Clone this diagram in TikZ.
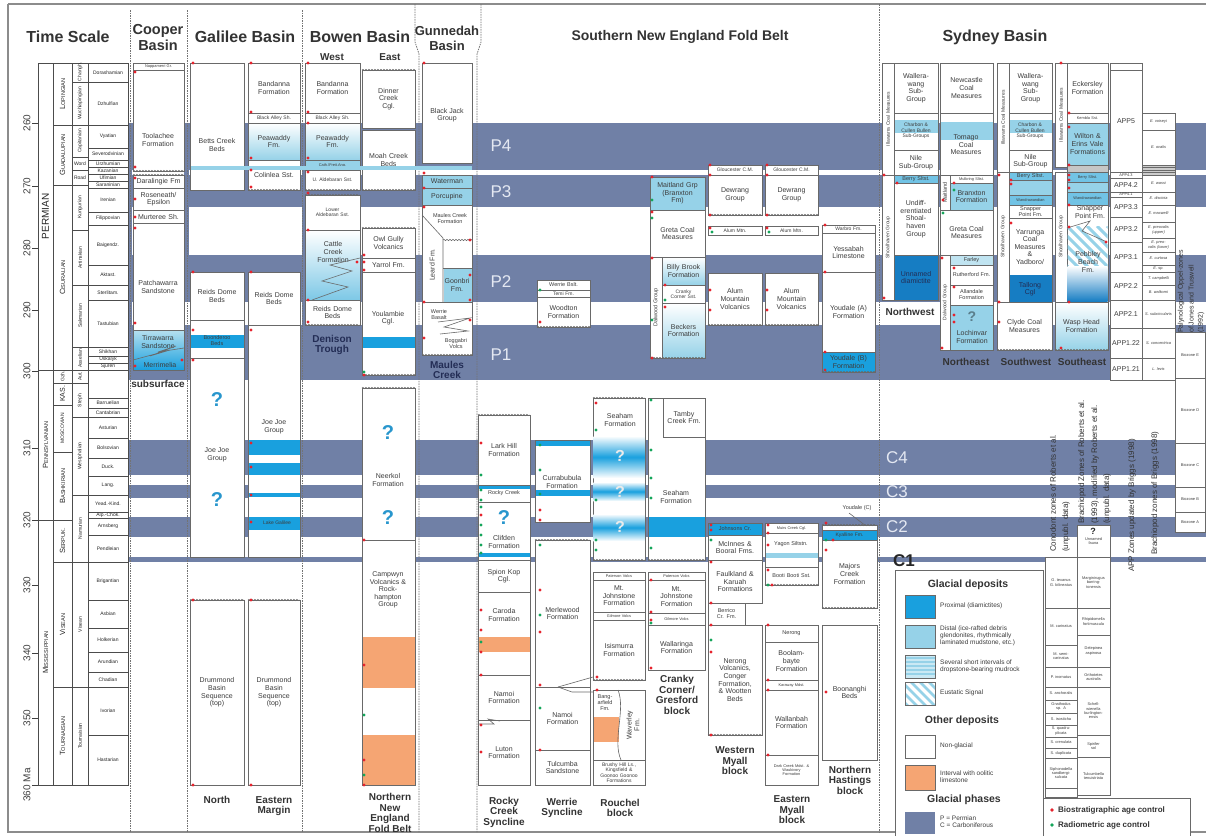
\documentclass[tikz,border=0pt]{standalone}
\usepackage{fontspec}
\setmainfont{Liberation Sans}
\usetikzlibrary{decorations.pathmorphing}
\definecolor{band}{RGB}{112,128,166}
\definecolor{prox}{RGB}{25,160,222}
\definecolor{proxd}{RGB}{22,125,195}
\definecolor{dist}{RGB}{150,210,232}
\definecolor{oran}{RGB}{245,165,115}
\definecolor{bord}{RGB}{105,105,105}
\definecolor{txt}{RGB}{60,60,60}
\definecolor{rdot}{RGB}{230,35,45}
\definecolor{gdot}{RGB}{20,165,90}
\definecolor{qblue}{RGB}{40,150,205}
\definecolor{plab}{RGB}{228,232,242}
\definecolor{navy}{RGB}{35,45,85}
\newcounter{nd}
\newcommand\ffa{\fontsize{7}{7.6}\selectfont}
\newcommand\ffb{\fontsize{5}{5.5}\selectfont}
\newcommand\ffc{\fontsize{5.5}{6}\selectfont}
\newcommand\ffd{\fontsize{3.9}{4.3}\selectfont}
\newcommand\scx[2]{{\fontsize{7.5}{8}\selectfont #1}{\fontsize{5.6}{6}\selectfont #2}}
\newcommand{\fmcell}[6][]{%
  \pgfmathsetmacro\cw{#4-#2}\pgfmathsetmacro\ch{#5-#3}%
  \pgfmathsetmacro\tw{max(#4-#2-2,1)}%
  \pgfmathsetmacro\cx{(#2+#4)/2}\pgfmathsetmacro\cy{(#3+#5)/2}%
  \stepcounter{nd}%
  \node[cellb,minimum width=\cw pt,minimum height=\ch pt,text width=\tw pt,#1] (c\arabic{nd}) at (\cx,\cy) {#6};}
\newcommand{\fmrcell}[6][]{%
  \pgfmathsetmacro\cw{#5-#3}\pgfmathsetmacro\ch{#4-#2}%
  \pgfmathsetmacro\tw{max(#5-#3-2,1)}%
  \pgfmathsetmacro\cx{(#2+#4)/2}\pgfmathsetmacro\cy{(#3+#5)/2}%
  \stepcounter{nd}%
  \node[cellb,rotate=90,minimum width=\cw pt,minimum height=\ch pt,text width=\tw pt,#1] (c\arabic{nd}) at (\cx,\cy) {#6};}
\begin{document}
\begin{tikzpicture}[x=1pt,y=-1pt,
  cellb/.style={draw=bord,fill=white,line width=0.5pt,align=center,inner xsep=1pt,inner ysep=0pt,font=\ffa,text=txt},
  tsc/.style={draw=black!70,text=black!85,font=\ffb},
  lbl/.style={font=\ffa,text=txt,align=center,inner sep=0pt},
  hdr/.style={font=\fontsize{16}{17}\selectfont\bfseries,text=black!80,align=center,inner sep=0pt},
  subh/.style={font=\fontsize{10}{11}\selectfont\bfseries,text=black!80,inner sep=0pt},
  blab/.style={font=\fontsize{10}{10.5}\selectfont\bfseries,text=black!80,align=center,inner sep=0pt},
  plabel/.style={font=\fontsize{17}{17}\selectfont,text=plab,inner sep=0pt},
  qm/.style={font=\fontsize{20}{20}\selectfont\bfseries,text=qblue,inner sep=0pt},
  qw/.style={font=\fontsize{16}{16}\selectfont\bfseries,text=white!92!black,inner sep=0pt},
  wavy/.style={draw=bord,line width=0.5pt,decorate,decoration={snake,amplitude=0.7pt,segment length=3pt}},
  sep/.style={draw=black!55,line width=0.8pt,dash pattern=on 1.5pt off 1pt},
  rotlab/.style={rotate=90,anchor=west,font=\fontsize{8}{8}\selectfont,text=black!80,inner sep=0pt},
  zz/.style={draw=bord,line width=0.6pt},
  legt/.style={anchor=west,font=\fontsize{6.5}{7.2}\selectfont,text=txt,align=left,inner sep=0pt},
  legh/.style={font=\fontsize{10.5}{11}\selectfont\bfseries,text=black!80,inner sep=0pt},
]
\useasboundingbox (0,0) rectangle (1206,836);
\fill[white] (0,0) rectangle (1206,836);
% ---------- glacial bands ----------
\foreach \a/\b in {123/170,175/207,255/302,325/380,440/475,485/498,517/537,557/562}
  \fill[band] (127,\a) rectangle (1206,\b);
\fill[band] (127,123) rectangle (132,333);
\fill[band] (184,123) rectangle (189,290);
\fill[band] (244,123) rectangle (248,200);
\fill[band] (302,123) rectangle (305,380);
% ---------- frame and separators ----------
\draw[black!45,line width=1.6pt] (8,4) -- (1206,4);
\draw[black!45,line width=1.6pt] (8,4) -- (8,832) -- (1206,832);
\draw[sep] (130,10) -- (130,832);
\draw[sep] (187,10) -- (187,832);
\draw[sep] (302,10) -- (302,832);
\draw[sep] (415,4) -- (415,42) -- (419,54) -- (419,832);
\draw[sep] (481,4) -- (481,42) -- (477,54) -- (477,832);
\draw[sep] (879,4) -- (879,832);
% ---------- headers ----------
\node[hdr] (hts) at (68,37) {Time Scale};
\node[hdr,font=\fontsize{14.5}{16}\selectfont\bfseries] (hcb) at (158,38) {Cooper\\Basin};
\node[hdr] (hgb) at (245,37) {Galilee Basin};
\node[hdr] (hbb) at (360,37) {Bowen Basin};
\node[subh] (hw) at (332,57) {West};
\node[subh] (he) at (390,57) {East};
\node[hdr,font=\fontsize{13}{15}\selectfont\bfseries] (hgu) at (447,38) {Gunnedah\\Basin};
\node[hdr,font=\fontsize{14}{15}\selectfont\bfseries] (hsn) at (680,37) {Southern New England Fold Belt};
\node[hdr] (hsy) at (995,37) {Sydney Basin};
% ---------- time scale ----------
\draw[black!75,line width=0.6pt] (38,63) -- (38,785);
\foreach \yy/\lab [count=\i] in {123/260,186/270,248/280,310/290,371/300,448/310,520/320,585/330,653/340,718/350,785/360 Ma}{
  \draw[black!75,line width=0.6pt] (32,\yy) -- (38,\yy);
  \node[rotate=90,font=\fontsize{10}{10}\selectfont,text=black!75,inner sep=0pt] (tk\i) at (27,\yy) {\lab};}
\fmrcell[tsc,font=\ffa]{38}{63}{53}{370}{\fontsize{10}{10}\selectfont PERMIAN}
\fmrcell[tsc]{38}{370}{53}{520}{\scx{P}{ENNSYLVANIAN}}
\fmrcell[tsc]{38}{520}{53}{785}{\scx{M}{ISSISSIPPIAN}}
\fmrcell[tsc]{53}{63}{72}{125}{\scx{L}{OPINGIAN}}
\fmrcell[tsc]{53}{125}{72}{185}{\scx{G}{UADALUPIAN}}
\fmrcell[tsc]{53}{185}{72}{370}{\scx{C}{ISURALIAN}}
\fmrcell[tsc]{53}{370}{72}{383}{Gzh.}
\fmrcell[tsc,font=\ffa]{53}{383}{72}{405}{KAS.}
\fmrcell[tsc]{53}{405}{72}{452}{MOSCOVIAN}
\fmrcell[tsc]{53}{452}{72}{520}{\scx{B}{ASHKIRIAN}}
\fmrcell[tsc]{53}{520}{72}{562}{\scx{S}{ERPUK.}}
\fmrcell[tsc]{53}{562}{72}{687}{\scx{V}{ISEAN}}
\fmrcell[tsc]{53}{687}{72}{785}{\scx{T}{OURNAISIAN}}
\foreach \a/\b/\t in {63/82/Changh.,82/125/Wuchiapingian,125/157/Capitanian,185/230/Kungurian,230/285/Artinskian,285/347/Sakmarian,347/370/Asselian,370/383/Aut.,383/417/Steph.,417/495/Westphalian,495/562/Namurian,562/687/Visean,687/785/Tournaisian}
  \fmrcell[tsc]{72}{\a}{88}{\b}{\t};
\fmcell[tsc]{72}{157}{88}{170}{Word}
\fmcell[tsc]{72}{170}{88}{185}{Road}
\foreach \a/\b/\t in {63/82/Dorashamian,82/125/Dzhulfian,125/148/Vyatian,148/160/Severodvinian,160/167/Urzhumian,167/174/Kazanian,174/181/Ufimian,181/188/Saraninian,188/212/Irenian,212/225/Filippovian,225/265/Baigendz.,265/285/Aktast.,285/300/Sterlitam.,300/347/Tastubian,347/356/Shikhan,356/363/Uskalyk,363/370/Sjuren,370/398/{},398/408/Barruelian,408/417/Cantabrian,417/438/Asturian,438/458/Bolsovian,458/476/Duck.,476/495/Lang.,495/512/Yead.-Kind.,512/518/Alp.-Chok.,518/535/Arnsberg,535/562/Pendleian,562/600/Brigantian,600/628/Asbian,628/652/Holkerian,652/672/Arundian,672/687/Chadian,687/735/Ivorian,735/785/Hastarian}
  \fmcell[tsc]{88}{\a}{128}{\b}{\t};
% ---------- Cooper Basin ----------
\fmcell[font=\ffd]{133}{63}{184}{70}{Nappamerri Gr.}
\fmcell{133}{70}{184}{171}{}
\node[lbl] (tool) at (158,140) {Toolachee\\Formation};
\fmcell{133}{175}{184}{188}{Daralingie Fm}
\fmcell{133}{188}{184}{210}{Roseneath/\\Epsilon}
\fmcell{133}{210}{184}{223}{Murteree Sh.}
\fmcell{133}{223}{184}{330}{}
\node[lbl] (patch) at (158,287) {Patchawarra\\Sandstone};
\fmcell[top color=dist!70,bottom color=prox]{133}{330}{184}{370}{}
\node[lbl] (tirr) at (158,342) {Tirrawarra\\Sandstone};
\node[lbl] (merr) at (160,365) {Merrimelia};
\draw[zz] (133,360) -- (170,350) -- (150,356) -- (176,346) -- (158,352) -- (184,348);
\draw[wavy] (133,171) -- (184,171);
\draw[wavy] (133,175) -- (184,175);
\node[blab] (cbsub) at (158,384) {subsurface};
% ---------- Galilee North ----------
\fmcell{190}{63}{244}{190}{}
\node[lbl] (betts) at (217,145) {Betts Creek\\Beds};
\fmcell{190}{272}{244}{320}{Reids Dome\\Beds}
\fmcell{190}{320}{244}{358}{}
\fill[prox] (190.5,335) rectangle (243.5,348);
\node[lbl,font=\ffc] (boon) at (217,341) {Boonderoo\\Beds};
\fmcell{190}{358}{244}{557}{}
\node[lbl] (jj1) at (217,455) {Joe Joe\\Group};
\node[qm] (q1) at (217,400) {?};
\node[qm] (q2) at (217,500) {?};
\fmcell{190}{600}{244}{785}{Drummond\\Basin\\Sequence\\(top)}
\draw[wavy] (190,600) -- (244,600);
\node[blab] (gn) at (217,800) {North};
% ---------- Galilee Eastern margin ----------
\fmcell{248}{63}{300}{113}{Bandanna\\Formation}
\fmcell[font=\ffb]{248}{113}{300}{123}{Black Alley Sh.}
\fmcell[top color=white,bottom color=dist]{248}{123}{300}{160}{Peawaddy\\Fm.}
\fmcell{248}{160}{300}{190}{Colinlea Sst.}
\draw[wavy] (248,190) -- (300,190);
\fmcell{248}{272}{300}{325}{Reids Dome\\Beds}
\fmcell{248}{325}{300}{557}{}
\foreach \a/\b in {440/455,463/475,493/497,517/530} \fill[prox] (248.5,\a) rectangle (299.5,\b);
\node[lbl] (jj2) at (274,427) {Joe Joe\\Group};
\node[lbl,font=\ffb] (lg) at (277,523) {Lake Galilee};
\fmcell{248}{600}{300}{785}{Drummond\\Basin\\Sequence\\(top)}
\draw[wavy] (248,600) -- (300,600);
\node[blab] (ge) at (274,806) {Eastern\\Margin};
% ---------- Bowen West ----------
\fmcell{305}{63}{360}{113}{Bandanna\\Formation}
\fmcell[font=\ffb]{305}{113}{360}{123}{Black Alley Sh.}
\fmcell[top color=white,bottom color=dist]{305}{123}{360}{160}{Peawaddy\\Fm.}
\fmcell[fill=dist,font=\ffd]{305}{160}{360}{170}{Cath./Freit.Ang.}
\fmcell[font=\ffb]{305}{170}{360}{190}{U. Aldebaran Sst.}
\draw[wavy] (305,190) -- (360,190);
\fmcell[font=\ffb]{305}{195}{360}{230}{Lower\\Aldebaran Sst.}
\draw[wavy] (305,195) -- (360,195);
\fmcell[top color=white,bottom color=dist!80!prox]{305}{230}{360}{300}{}
\node[lbl] (cattle) at (333,252) {Cattle\\Creek\\Formation};
\draw[zz] (312,300) -- (348,287) -- (322,281) -- (352,271) -- (330,265) -- (360,258);
\fmcell{305}{300}{360}{325}{Reids Dome\\Beds}
\draw[wavy] (305,325) -- (360,325);
\node[blab,text=navy] (dt) at (332,345) {Denison\\Trough};
% ---------- Bowen East ----------
\fmcell{362}{70}{415}{128}{Dinner\\Creek\\Cgl.}
\draw[wavy] (362,70) -- (415,70);
\fmcell{362}{130}{415}{190}{Moah Creek\\Beds}
\draw[wavy] (362,190) -- (415,190);
\fmcell{362}{228}{415}{258}{Owl Gully\\Volcanics}
\draw[wavy] (362,228) -- (415,228);
\fmcell{362}{258}{415}{272}{Yarrol Fm.}
\fmcell{362}{272}{415}{375}{}
\fill[prox] (362.5,337) rectangle (414.5,348);
\node[lbl] (youl) at (388,318) {Youlambie\\Cgl.};
\draw[wavy] (362,375) -- (415,375);
\fmcell{362}{388}{415}{540}{}
\draw[wavy] (362,388) -- (415,388);
\node[qm] (q3) at (388,433) {?};
\node[lbl] (neer) at (388,480) {Neerkol\\Formation};
\node[qm] (q4) at (388,518) {?};
\fmcell{362}{540}{415}{785}{}
\fill[oran] (362.5,637) rectangle (414.5,688);
\fill[oran] (362.5,735) rectangle (414.5,784.5);
\node[lbl] (camp) at (388,590) {Campwyn\\Volcanics \&\\Rock-\\hampton\\Group};
\node[blab] (nnefb) at (390,813) {Northern\\New\\England\\Fold Belt};
% light blue line across Galilee-Gunnedah
\fill[dist] (190.5,166) rectangle (471.5,170);
% ---------- Gunnedah ----------
\fmcell{422}{63}{472}{163}{}
\node[lbl] (bj) at (447,115) {Black Jack\\Group};
\fmcell[fill=dist]{422}{175}{472}{188}{Waterman}
\fmcell[fill=dist]{422}{188}{472}{205}{Porcupine}
\fmcell{422}{205}{472}{302}{}
\node[lbl,font=\ffc] (mcf) at (450,219) {Maules Creek\\Formation};
\draw[zz] (422,215) -- (443,238) -- (443,302);
\draw[wavy] (443,240) -- (472,240);
\fill[dist] (443.5,268) rectangle (471.5,301.5);
\draw[zz] (443,268) -- (472,268);
\node[lbl] (goon) at (457,285) {Goonbri\\Fm.};
\node[lbl,rotate=90] (leard) at (432,265) {Leard Fm.};
\fmcell{422}{302}{472}{355}{}
\node[lbl,font=\ffc] (wb) at (439,315) {Werrie\\Basalt};
\node[lbl,font=\ffc] (bv) at (456,344) {Boggabri\\Volcs};
\draw[zz] (438,322) -- (470,318) -- (444,327) -- (468,331) -- (440,334);
\draw[wavy] (422,355) -- (472,355);
\node[blab,text=navy] (mc) at (447,370) {Maules\\Creek};
% ---------- SNEFB Permian ----------
\node[plabel] (lp4) at (501,146) {P4};
\node[plabel] (lp3) at (501,192) {P3};
\node[plabel] (lp2) at (501,282) {P2};
\node[plabel] (lp1) at (501,355) {P1};
\fmcell[font=\ffc]{537}{280}{590}{290}{Werrie Bslt.}
\fmcell[font=\ffb]{537}{290}{590}{297}{Temi Fm.}
\fmcell{537}{297}{590}{327}{Woodton\\Formation}
\draw[wavy] (537,327) -- (590,327);
\fmcell[fill=dist]{650}{177}{705}{210}{Maitland Grp\\(Branxton\\Fm)}
\fmcell{650}{210}{705}{257}{Greta Coal\\Measures}
\fmrcell[font=\ffc]{650}{257}{662}{358}{Dalwood Group}
\fmcell[top color=white,bottom color=dist]{662}{257}{705}{285}{Billy Brook\\Formation}
\fmcell[font=\ffb]{662}{285}{705}{303}{Cranky\\Corner Sst.}
\fmcell[top color=white,bottom color=dist]{662}{303}{705}{358}{Beckers\\Formation}
\draw[wavy] (650,358) -- (705,358);
\foreach \xa/\xb in {708/762,765/818}{
  \fmcell[font=\ffb]{\xa}{165}{\xb}{175}{Gloucester C.M.}
  \fmcell{\xa}{175}{\xb}{215}{Dewrang\\Group}
  \draw[wavy] (\xa,215) -- (\xb,215);
  \fmcell[font=\ffb]{\xa}{226}{\xb}{235}{Alum Mtn.}
  \fmcell{\xa}{273}{\xb}{325}{Alum\\Mountain\\Volcanics}
  \draw[wavy] (\xa,325) -- (\xb,325);}
\fmcell[font=\ffb]{822}{225}{875}{233}{Warbro Fm.}
\fmcell{822}{233}{875}{272}{Yessabah\\Limestone}
\fmcell{822}{272}{875}{352}{Youdale (A)\\Formation}
\fmcell[fill=prox]{822}{352}{875}{372}{Youdale (B)\\Formation}
\draw[wavy] (822,372) -- (875,372);
% ---------- SNEFB Carboniferous ----------
\node[plabel] (lc4) at (897,458) {C4};
\node[plabel] (lc3) at (897,492) {C3};
\node[plabel] (lc2) at (897,527) {C2};
% Rocky Creek
\fmcell{478}{415}{530}{485}{Lark Hill\\Formation}
\draw[wavy] (478,415) -- (530,415);
\fmcell[font=\ffc]{478}{485}{530}{502}{Rocky Creek}
\fill[prox] (478.5,485.5) rectangle (529.5,489);
\fmcell{478}{502}{530}{560}{}
\fill[prox] (478.5,553) rectangle (529.5,557);
\node[qm] (q5) at (504,518) {?};
\node[lbl] (clif) at (504,542) {Clifden\\Formation};
\fmcell{478}{560}{530}{592}{Spion Kop\\Cgl.}
\fmcell{478}{592}{530}{675}{}
\fill[oran] (478.5,637) rectangle (529.5,652);
\node[lbl] (caro) at (504,615) {Caroda\\Formation};
\fmcell{478}{675}{530}{720}{Namoi\\Formation}
\fmcell{478}{720}{530}{785}{Luton\\Formation}
\draw[zz] (478,724) -- (494,724) -- (488,719) -- (500,721);
\node[blab] (rcs) at (504,812) {Rocky\\Creek\\Syncline};
% Werrie Syncline
\fmcell{535}{440}{590}{522}{}
\fill[prox] (535.5,440.5) rectangle (589.5,446);
\fill[prox] (535.5,490) rectangle (589.5,496);
\node[lbl] (curr) at (562,482) {Currabubula\\Formation};
\fmcell{535}{540}{590}{687}{Merlewood\\Formation}
\draw[wavy] (535,540) -- (590,540);
\fmcell{535}{687}{590}{750}{Namoi\\Formation}
\fmcell{535}{750}{590}{785}{Tulcumba\\Sandstone}
\draw[zz] (558,687) -- (572,683) -- (593,677);
\draw[zz] (558,687) -- (572,692) -- (593,692);
\node[blab] (wsy) at (562,808) {Werrie\\Syncline};
% Rouchel
\fmcell{593}{398}{645}{560}{}
\draw[wavy] (593,398) -- (645,398);
\node[lbl] (sea1) at (620,420) {Seaham\\Formation};
\foreach \a/\b in {436/478,482/501,514/541}
  \shade[top color=white,bottom color=white,middle color=prox] (593.5,\a) rectangle (644.5,\b);
\node[qw] (qa) at (620,456) {?};
\node[qw] (qb) at (620,492) {?};
\node[qw] (qc) at (620,527) {?};
\draw[wavy] (593,560) -- (645,560);
\fmcell[font=\ffd]{593}{572}{645}{580}{Paterson Volcs}
\fmcell{593}{580}{645}{612}{Mt.\\Johnstone\\Formation}
\fmcell[font=\ffd]{593}{612}{645}{620}{Gilmore Volcs}
\fmcell{593}{620}{645}{680}{Isismurra\\Formation}
\draw[wavy] (593,680) -- (645,680);
\fmcell{593}{690}{645}{760}{}
\fill[oran] (593.5,717) rectangle (619,742);
\draw[zz] (618,690) .. controls (626,710) and (612,740) .. (621,760);
\node[lbl,font=\ffc] (bang) at (605,703) {Bang-\\arfield\\Fm.};
\node[lbl,rotate=90] (wav) at (633,725) {Waverley\\Fm.};
\fmcell[font=\ffb]{593}{760}{645}{785}{Brushy Hill Ls.,\\Kingsfield \&\\Goonoo Goonoo\\Formations}
\node[blab] (rou) at (620,808) {Rouchel\\block};
% Cranky Corner
\fmcell{648}{398}{705}{560}{}
\fmcell{663}{398}{705}{437}{Tamby\\Creek Fm.}
\fill[prox] (648.5,517) rectangle (704.5,537);
\node[lbl] (sea2) at (676,497) {Seaham\\Formation};
\draw[wavy] (648,560) -- (705,560);
\fmcell[font=\ffd]{648}{572}{705}{580}{Paterson Volcs}
\fmcell{648}{580}{705}{613}{Mt.\\Johnstone\\Formation}
\fmcell[font=\ffd]{648}{613}{705}{625}{Gilmore Volcs}
\fmcell{648}{625}{705}{670}{Wallaringa\\Formation}
\node[blab] (ccg) at (677,695) {Cranky\\Corner/\\Gresford\\block};
% Western Myall
\fmcell[fill=prox,font=\ffc]{708}{523}{762}{535}{Johnsons Cr.}
\fmcell{708}{535}{762}{560}{McInnes \&\\Booral Fms.}
\fmcell{708}{560}{762}{603}{Faulkland \&\\Karuah\\Formations}
\fmcell[font=\ffc]{708}{603}{745}{625}{Berrico\\Cr. Fm.}
\fmcell{708}{625}{762}{735}{Nerong\\Volcanics,\\Conger\\Formation,\\\& Wootten\\Beds}
\draw[wavy] (708,735) -- (762,735);
\node[blab] (wmy) at (735,761) {Western\\Myall\\block};
% Eastern Myall
\fmcell[font=\ffd]{765}{523}{818}{533}{Muirs Creek Cgl.}
\fmcell{765}{533}{818}{567}{}
\fill[dist] (765.5,553) rectangle (817.5,558);
\node[lbl,font=\ffc] (yag) at (791,544) {Yagon Siltstn.};
\fmcell[font=\ffc]{765}{567}{818}{585}{Booti Booti Sst.}
\draw[wavy] (765,585) -- (818,585);
\fmcell[font=\ffc]{765}{625}{818}{642}{Nerong}
\fmcell{765}{642}{818}{680}{Boolam-\\bayte\\Formation}
\fmcell[font=\ffd]{765}{680}{818}{690}{Karaway Mdst.}
\fmcell{765}{690}{818}{755}{Wallanbah\\Formation}
\fmcell[font=\ffd]{765}{755}{818}{785}{Dark Creek Mdst. \&\\Waukivory\\Formation}
\node[blab] (emy) at (792,810) {Eastern\\Myall\\block};
% Northern Hastings
\node[lbl,font=\ffc] (ydc) at (857,508) {Youdale (C)};
\draw[zz] (849,513) -- (866,526);
\fmcell{822}{525}{877}{530}{}
\draw[wavy] (822,525) -- (877,525);
\fmcell[fill=prox,font=\ffb]{822}{530}{877}{540}{Kyalline Fm.}
\fmcell{822}{540}{877}{608}{Majors\\Creek\\Formation}
\draw[wavy] (822,608) -- (877,608);
\fmcell{822}{625}{877}{760}{Boonanghi\\Beds}
\node[blab] (nhb) at (850,780) {Northern\\Hastings\\block};
\node[font=\fontsize{17}{17}\selectfont\bfseries,text=black!85,inner sep=0pt] (lc1) at (904,561) {C1};
% ---------- Sydney Basin ----------
\fmrcell[font=\ffb]{882}{63}{894}{175}{Illawarra Coal Measures}
\fmcell{894}{63}{938}{113}{Wallera-\\wang\\Sub-\\Group}
\fmcell{894}{113}{938}{150}{}
\fill[dist] (894.5,120) rectangle (937.5,133);
\node[lbl,font=\ffb] (cb1) at (916,131) {Charbon \&\\Cullen Bullen\\Sub-Groups};
\fmcell{894}{150}{938}{175}{Nile\\Sub-Group}
\fmrcell[font=\ffb]{882}{175}{894}{300}{Shoalhaven Group}
\fmcell[fill=dist!70!prox,font=\ffc]{894}{175}{938}{183}{Berry Sltst.}
\fmcell{894}{183}{938}{255}{Undiff-\\erentiated\\Shoal-\\haven\\Group}
\fmcell[fill=proxd,text=navy]{894}{255}{938}{300}{Unnamed\\diamictite}
\node[blab] (nw) at (910,312) {Northwest};
\fmcell{940}{63}{993}{113}{Newcastle\\Coal\\Measures}
\fmcell{940}{113}{993}{175}{}
\fill[dist] (940.5,122) rectangle (992.5,140);
\node[lbl] (tom) at (966,145) {Tomago\\Coal\\Measures};
\fmrcell[font=\ffc]{940}{175}{950}{210}{Maitland}
\fmcell[font=\ffd]{950}{175}{993}{183}{Mulbring Sltst.}
\fmcell[fill=dist]{950}{183}{993}{210}{Branxton\\Formation}
\fmcell{940}{210}{993}{255}{Greta Coal\\Measures}
\fmrcell[font=\ffb]{940}{255}{950}{350}{Dalwood Group}
\fmcell[fill=dist!60,font=\ffc]{950}{255}{993}{265}{Farley}
\fmcell[font=\ffc]{950}{265}{993}{285}{Rutherford Fm.}
\fmcell[font=\ffc]{950}{285}{993}{305}{Allandale\\Formation}
\fmcell[fill=dist]{950}{305}{993}{350}{}
\node[qm,font=\fontsize{14}{14}\selectfont\bfseries,text=dist!60!black] (q6) at (972,317) {?};
\node[lbl] (loch) at (972,337) {Lochinvar\\Formation};
\node[blab] (ne) at (966,362) {Northeast};
\fmrcell[font=\ffb]{997}{63}{1009}{172}{Illawarra Coal Measures}
\fmcell{1009}{63}{1052}{113}{Wallera-\\wang\\Sub-\\Group}
\fmcell{1009}{113}{1052}{150}{}
\fill[dist] (1009.5,120) rectangle (1051.5,133);
\node[lbl,font=\ffb] (cb2) at (1030,131) {Charbon \&\\Cullen Bullen\\Sub-Groups};
\fmcell{1009}{150}{1052}{172}{Nile\\Sub-Group}
\fmrcell[font=\ffb]{997}{172}{1009}{302}{Shoalhaven Group}
\fmcell[fill=dist!70!prox,font=\ffc]{1009}{172}{1052}{180}{Berry Sltst.}
\fmcell[fill=dist]{1009}{180}{1052}{195}{}
\fmcell[fill=dist!70!prox,font=\ffd]{1009}{195}{1052}{205}{Wandrawandian}
\fmcell[font=\ffc]{1009}{205}{1052}{218}{Snapper\\Point Fm.}
\fmcell{1009}{218}{1052}{302}{}
\fill[proxd] (1009.5,275) rectangle (1051.5,301.5);
\node[lbl] (yarr) at (1030,247) {Yarrunga\\Coal\\Measures\\\&\\Yadboro/};
\node[lbl,text=navy] (tall) at (1030,289) {Tallong\\Cgl};
\fmcell{997}{302}{1052}{350}{Clyde Coal\\Measures}
\draw[wavy] (997,350) -- (1052,350);
\node[blab] (sw) at (1026,362) {Southwest};
\fmrcell[font=\ffb]{1055}{63}{1067}{167}{Illawarra Coal Measures}
\fmcell{1067}{63}{1108}{113}{Eckersley\\Formation}
\fmcell[font=\ffd]{1067}{113}{1108}{123}{Kembla Sst.}
\fmcell[fill=dist]{1067}{123}{1108}{165}{Wilton \&\\Erins Vale\\Formations}
\fmcell[fill=gray!45]{1067}{165}{1108}{172}{}
\fmrcell[font=\ffb]{1055}{172}{1067}{302}{Shoalhaven Group}
\fmcell[fill=dist!70!prox,font=\ffd]{1067}{172}{1108}{182}{Berry Sltst.}
\fmcell[fill=dist]{1067}{182}{1108}{192}{}
\fmcell[fill=dist!70!prox,font=\ffd]{1067}{192}{1108}{205}{Wandrawandian}
\fmcell{1067}{205}{1108}{302}{}
\begin{scope}
  \clip (1067.5,226) rectangle (1107.5,266);
  \foreach \k in {-50,-40,...,40} \draw[dist,line width=3pt] ({1067+\k},226) -- ++(45,45);
\end{scope}
\shade[top color=white,bottom color=proxd] (1067.5,266) rectangle (1107.5,301.5);
\draw[zz] (1067,228) -- (1090,221) -- (1082,231) -- (1107,242);
\node[lbl] (snap2) at (1090,212) {Snapper\\Point Fm.};
\node[lbl] (pebb) at (1088,262) {Pebbley\\Beach\\Fm.};
\fmcell[top color=white,bottom color=dist]{1055}{302}{1108}{350}{Wasp Head\\Formation}
\draw[wavy] (1055,350) -- (1108,350);
\node[blab] (se) at (1082,362) {Southeast};
% APP zones
\fmcell{1110}{63}{1142}{70}{}
\foreach \a/\b/\t in {70/172/APP5,178/192/APP4.2,197/217/APP3.3,217/242/APP3.2,242/272/APP3.1,272/300/APP2.2,300/328/APP2.1,328/358/APP1.22,358/380/APP1.21}
  \fmcell{1110}{\a}{1142}{\b}{\t};
\fmcell[font=\ffd]{1110}{172}{1142}{178}{APP4.3}
\fmcell[font=\ffd]{1110}{192}{1142}{197}{APP4.1}
\foreach \a/\b/\t in {113/130/E. voiseyi,130/165/E. ovalis,175/192/E. wassi,192/205/E. discinia,205/222/E. maxwelli,222/238/E. preovalis (upper),238/252/E. preovalis (lower),252/265/E. curtosa,265/272/E. sp.,272/285/T. campbelli,285/300/B. walkomi,300/328/S. subcircularis,328/358/S. concentrica,358/380/L. levis}
  \fmcell[font=\ffd]{1142}{\a}{1175}{\b}{\textit{\t}};
\foreach \a in {165,167.5,170,172.5} \fmcell[fill=gray!40]{1142}{\a}{1175}{\a+2.5}{};
\node[rotlab,font=\fontsize{7}{7}\selectfont] (pal1) at (1181,333) {Palynological Oppel-zones};
\node[rotlab,font=\fontsize{7}{7}\selectfont] (pal2) at (1191,333) {of Jones and Truswell};
\node[rotlab,font=\fontsize{7}{7}\selectfont] (pal3) at (1201,333) {(1992)};
\foreach \a/\b/\t in {332/378/Biozone E,378/443/Biozone D,443/487/Biozone C,487/512/Biozone B,512/532/Biozone A}
  \fmcell[font=\ffd]{1175}{\a}{1205}{\b}{\t};
% Carboniferous zone columns
\node[rotlab] (cz1) at (1053,552) {Conodont zones of Roberts et al.};
\node[rotlab] (cz2) at (1066,552) {(unpubl. data)};
\node[rotlab] (bz1) at (1082,524) {Brachiopod Zones of Roberts et al.};
\node[rotlab] (bz2) at (1095,524) {(1993), modified by Roberts et al.};
\node[rotlab] (bz3) at (1107,524) {(unpubl. data)};
\node[rotlab] (az) at (1132,572) {APP Zones updated by Briggs (1998)};
\node[rotlab] (bb) at (1155,555) {Brachiopod zones of Briggs (1998)};
\foreach \a/\b/\t in {557/608/{G. texanus\\G. bilineatus},608/645/M. carinatus,645/667/{M. semi-\\carinatus},667/687/P. inornatus,687/700/S. anchoralis,700/713/{Gnathodus\\sp. A},713/725/S. isosticha,725/737/{S. quadru-\\plicata},737/748/S. crenulata,748/758/S. duplicata,758/788/{Siphonodella\\sandbergi-\\sulcata},788/797/{}}
  \fmcell[font=\ffd]{1045}{\a}{1077}{\b}{\t};
\fmcell[font=\ffd]{1077}{525}{1110}{557}{Unnamed\\fauna}
\node[font=\fontsize{9}{9}\selectfont\bfseries,text=black!85,inner sep=0pt] (qbr) at (1093,531) {?};
\foreach \a/\b/\t in {557/608/{Marginirugus\\barring-\\tonensis},608/635/{Rhipidomella\\fortimuscula},635/667/{Delepinea\\aspinosa},667/687/{Orthotetes\\australis},687/735/{Schell-\\wienella\\burlington-\\ensis},735/757/{Spirifer\\sol},757/795/{Tulcumbella\\tenuistriata}}
  \fmcell[font=\ffd]{1077}{\a}{1110}{\b}{\t};
% ---------- age control dots ----------
\foreach \x/\y in {135/72,135/167,135/178,135/199,135/217,135/228,135/323,182/360,135/366,
  193/63,193/272,193/330,193/360,193/600,193/785,
  251/63,251/112,251/158,251/170,251/187,251/272,251/330,251/443,251/467,251/495,251/522,251/600,251/785,
  308/63,308/112,308/123,308/158,308/172,308/193,308/230,357/262,308/300,308/322,
  364/255,364/262,364/270,364/375,364/540,364/665,364/760,364/785,
  424/63,424/173,424/188,424/207,470/240,470/275,470/300,424/302,470/320,424/338,
  540/322,652/177,652/212,652/258,665/285,665/307,652/358,
  710/165,710/175,710/215,710/228,710/290,710/310,767/165,767/175,767/215,767/228,767/290,767/310,
  825/225,825/272,825/352,825/370,884/175,897/183,884/298,
  954/183,943/200,942/258,954/268,954/287,954/315,954/322,942/348,
  999/175,1011/180,1011/184,1011/223,999/302,999/322,
  1061/63,1069/113,1069/127,1069/165,1069/175,1069/180,1069/188,1069/205,1069/227,1106/242,1069/302,1061/348,
  481/443,481/515,481/610,481/630,481/652,481/675,481/725,481/752,
  540/510,540/520,540/590,540/632,540/685,540/750,597/677,597/690,596/403,
  651/580,651/612,651/620,651/668,
  711/525,711/530,711/562,711/603,711/625,711/652,711/735,
  768/525,768/533,768/545,768/570,772/585,768/625,768/680,768/690,768/755,
  826/523,833/540,826/550,826/692}
  \fill[rdot] (\x,\y) circle (1.7);
\foreach \x/\y in {364/372,364/715,364/775,540/290,652/200,652/218,665/300,652/320,712/232,769/232,954/190,943/213,
  481/475,481/490,481/500,481/507,481/525,481/535,481/545,481/553,481/642,
  540/445,540/470,540/494,540/545,540/615,540/708,596/430,596/500,596/540,596/550,
  651/400,651/450,651/478,651/498,651/548,651/623,711/540,711/640,768/585,826/540}
  \fill[gdot] (\x,\y) circle (1.7);
% ---------- legend ----------
\draw[bord,line width=0.8pt,fill=white] (895,836) -- (895,570) -- (1043,570) -- (1043,836);
\node[legh] (lg1) at (968,585) {Glacial deposits};
\fill[prox] (905,595) rectangle (935,618); \draw[bord] (905,595) rectangle (935,618);
\node[legt] (lt1) at (940,606) {Proximal (diamictites)};
\fill[dist] (905,625) rectangle (935,648); \draw[bord] (905,625) rectangle (935,648);
\node[legt] (lt2) at (940,636) {Distal (ice-rafted debris\\glendonites, rhythmically\\laminated mudstone, etc.)};
\fill[dist!50] (905,655) rectangle (935,678);
\foreach \k in {657,661,...,675} \fill[dist] (905,\k) rectangle (935,\k+2);
\draw[bord] (905,655) rectangle (935,678);
\node[legt] (lt3) at (940,666) {Several short intervals of\\dropstone-bearing mudrock};
\begin{scope}
  \clip (905,682) rectangle (935,705);
  \foreach \k in {-30,-21,...,30} \draw[dist,line width=2.5pt] ({905+\k},682) -- ++(30,30);
\end{scope}
\draw[bord] (905,682) rectangle (935,705);
\node[legt] (lt4) at (940,693) {Eustatic Signal};
\node[legh] (lg2) at (962,721) {Other deposits};
\draw[bord,fill=white] (905,735) rectangle (935,758);
\node[legt] (lt5) at (940,746) {Non-glacial};
\draw[bord,fill=oran] (905,765) rectangle (935,790);
\node[legt] (lt6) at (940,777) {Interval with oolitic\\limestone};
\node[legh] (lg3) at (964,800) {Glacial phases};
\fill[band] (905,812) rectangle (935,834);
\node[legt] (lt7) at (940,822) {P = Permian\\C = Carboniferous};
\draw[bord,line width=0.8pt,fill=white] (1043,836) -- (1043,798) -- (1190,798) -- (1190,836);
\fill[rdot] (1052,810) circle (1.8);
\node[anchor=west,font=\fontsize{8}{8}\selectfont\bfseries,text=black!80,inner sep=0pt] (lb1) at (1058,810) {Biostratigraphic age control};
\fill[gdot] (1052,825) circle (1.8);
\node[anchor=west,font=\fontsize{8}{8}\selectfont\bfseries,text=black!80,inner sep=0pt] (lb2) at (1058,825) {Radiometric age control};
\end{tikzpicture}
\end{document}
